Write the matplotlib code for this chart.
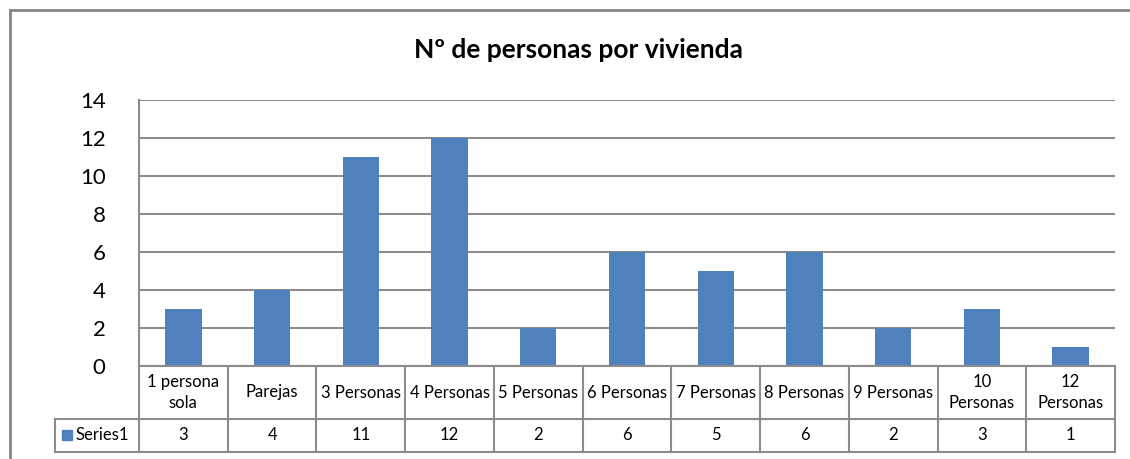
import matplotlib
matplotlib.use('Agg')
from matplotlib import pyplot as plt
from matplotlib.patches import Rectangle
from matplotlib.lines import Line2D

# data
categories = ['1 persona\nsola', 'Parejas', '3 Personas', '4 Personas', '5 Personas',
              '6 Personas', '7 Personas', '8 Personas', '9 Personas', '10\nPersonas', '12\nPersonas']
values = [3, 4, 11, 12, 2, 6, 5, 6, 2, 3, 1]
series_name = 'Series1'
title = 'Nº de personas por vivienda'

W, H = 1130, 459
BAR = '#4F81BD'
GRID = '#8C8C8C'
FONT = 'Lato'

fig = plt.figure(figsize=(W / 100, H / 100), dpi=100)


# pixel (from top-left) -> figure fraction
def fx(px):
    return px / W


def fy(py):
    return 1 - py / H


# plot area in pixels
left, right, top, zero = 139, 1115, 100, 366
row1, row2 = 419, 452
key_left = 55

ax = fig.add_axes([fx(left), fy(zero), fx(right) - fx(left), fy(top) - fy(zero)])
x = list(range(len(values)))
ax.bar(x, values, width=0.41, color=BAR, zorder=3)
ax.set_xlim(-0.5, len(values) - 0.5)
ax.set_ylim(0, 14)
ax.set_yticks(range(0, 15, 2))
ax.set_xticks([])
ax.yaxis.grid(True, color=GRID, linewidth=1.5, zorder=0)
for s in ['top', 'right', 'bottom']:
    ax.spines[s].set_visible(False)
ax.spines['left'].set_color(GRID)
ax.spines['left'].set_linewidth(1.5)
ax.tick_params(axis='y', length=0, pad=24, labelsize=16)
for lab in ax.get_yticklabels():
    lab.set_fontfamily(FONT)

# outer chart border (cut off at right/bottom of image)
fig.add_artist(Line2D([fx(10), fx(10)], [fy(10), 0], color='#868686', lw=2, transform=fig.transFigure))
fig.add_artist(Line2D([fx(10), 1], [fy(10), fy(10)], color='#868686', lw=2, transform=fig.transFigure))

# data table under the axis
col_w = (right - left) / len(values)
lines = [
    ([left, right], [zero, zero]),
    ([key_left, right], [row1, row1]),
    ([key_left, right], [row2, row2]),
    ([key_left, key_left], [row1, row2]),
    ([left, left], [zero, row2]),
]
for i in range(1, len(values) + 1):
    xb = left + i * col_w
    lines.append(([xb, xb], [zero, row2]))
for xs, ys in lines:
    fig.add_artist(Line2D([fx(v) for v in xs], [fy(v) for v in ys], color=GRID, lw=1.5,
                          transform=fig.transFigure))

for i, (cat, val) in enumerate(zip(categories, values)):
    cx = left + (i + 0.5) * col_w
    fig.text(fx(cx), fy((zero + row1) / 2), cat, ha='center', va='center', fontsize=12,
             family=FONT, linespacing=1.4)
    fig.text(fx(cx), fy((row1 + row2) / 2), str(val), ha='center', va='center', fontsize=12,
             family=FONT)

fig.add_artist(Rectangle((fx(62), fy(440)), fx(10), fy(430) - fy(440), color=BAR,
                         transform=fig.transFigure))
fig.text(fx(75), fy((row1 + row2) / 2), series_name, ha='left', va='center', fontsize=12, family=FONT)

fig.text(fx(578), fy(50), title, ha='center', va='center', fontsize=19, fontweight='bold', family=FONT)

fig.savefig('out.png', dpi=100)
